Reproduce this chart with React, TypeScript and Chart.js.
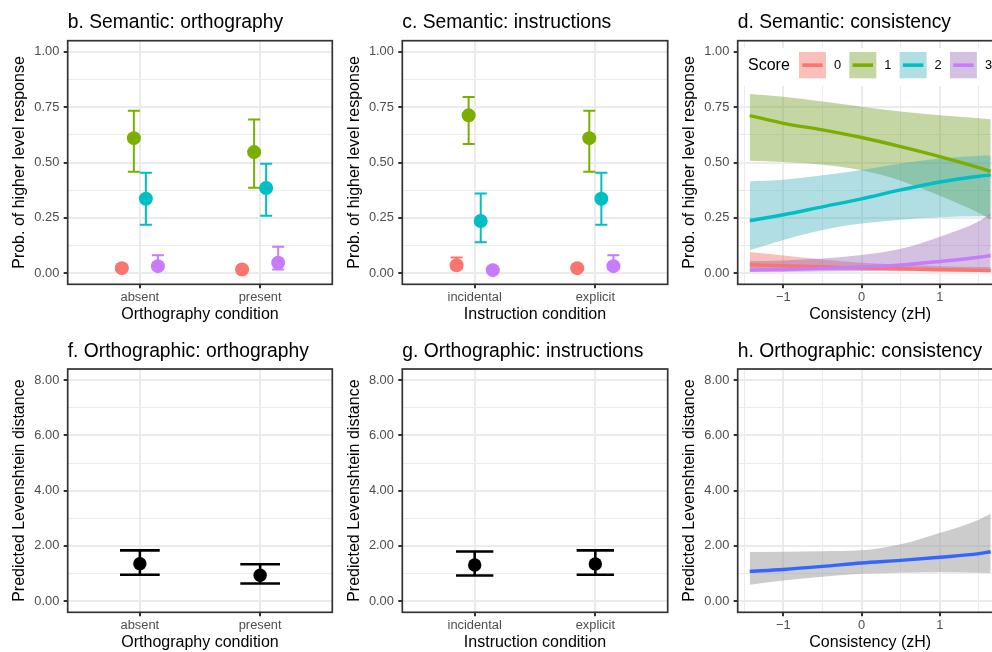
import React, { useEffect, useRef } from 'react';
import { Chart, registerables } from 'chart.js';

Chart.register(...registerables);

const FONT = '"Liberation Sans", Arial, Helvetica, sans-serif';
Chart.defaults.font.family = FONT;

// ---------------- data ----------------
const orthographyConditions = ['absent', 'present'];
const instructionConditions = ['incidental', 'explicit'];
const scoreLevels = ['0', '1', '2', '3'];
const scoreColors = ['#F8766D', '#7CAE00', '#00BFC4', '#C77CFF'];
const scoreBandColors = ['rgba(240,98,85,0.4)', 'rgba(110,152,30,0.4)', 'rgba(58,172,182,0.4)', 'rgba(148,98,178,0.4)'];

const probTicks = [0, 0.25, 0.5, 0.75, 1];
const distanceTicks = [0, 2, 4, 6, 8];
const consistencyTicks = [-1, 0, 1];

// b. Semantic: orthography (rows: score 0..3, cols: absent, present)
const semOrthoFit = [[0.023, 0.017], [0.61, 0.547], [0.336, 0.385], [0.032, 0.047]];
const semOrthoLower = [[0.013, 0.009], [0.458, 0.386], [0.219, 0.26], [0.02, 0.017]];
const semOrthoUpper = [[0.035, 0.029], [0.734, 0.694], [0.454, 0.494], [0.081, 0.12]];

// c. Semantic: instructions (cols: incidental, explicit)
const semInstrFit = [[0.036, 0.023], [0.713, 0.61], [0.236, 0.336], [0.014, 0.032]];
const semInstrLower = [[0.02, 0.013], [0.584, 0.458], [0.14, 0.219], [0.007, 0.02]];
const semInstrUpper = [[0.071, 0.035], [0.796, 0.734], [0.36, 0.454], [0.025, 0.081]];

// d. Semantic: consistency
const consistencyX = [-1.43, -1, -0.5, 0, 0.5, 1, 1.5, 1.65];
const consFit0 = [0.038, 0.034, 0.029, 0.024, 0.02, 0.016, 0.013, 0.012];
const consLow0 = [0.016, 0.015, 0.014, 0.013, 0.01, 0.008, 0.006, 0.005];
const consUp0 = [0.096, 0.08, 0.062, 0.047, 0.038, 0.032, 0.028, 0.027];
const consFit1 = [0.712, 0.677, 0.647, 0.613, 0.572, 0.527, 0.477, 0.46];
const consLow1 = [0.508, 0.502, 0.49, 0.465, 0.418, 0.35, 0.272, 0.242];
const consUp1 = [0.809, 0.797, 0.775, 0.752, 0.73, 0.713, 0.7, 0.695];
const consFit2 = [0.237, 0.264, 0.3, 0.336, 0.376, 0.412, 0.438, 0.444];
const consLow2 = [0.104, 0.15, 0.195, 0.224, 0.242, 0.253, 0.257, 0.257];
const consUp2 = [0.414, 0.422, 0.442, 0.466, 0.495, 0.518, 0.531, 0.532];
const consFit3 = [0.014, 0.017, 0.022, 0.028, 0.037, 0.053, 0.072, 0.08];
const consLow3 = [0.005, 0.006, 0.008, 0.01, 0.012, 0.014, 0.015, 0.016];
const consUp3 = [0.055, 0.058, 0.066, 0.082, 0.11, 0.165, 0.235, 0.27];

// f. Orthographic: orthography
const orthoOrthoFit = [1.36, 0.94];
const orthoOrthoLower = [0.96, 0.64];
const orthoOrthoUpper = [1.84, 1.34];

// g. Orthographic: instructions
const orthoInstrFit = [1.31, 1.35];
const orthoInstrLower = [0.93, 0.96];
const orthoInstrUpper = [1.8, 1.84];

// h. Orthographic: consistency
const orthoConsFit = [1.08, 1.15, 1.26, 1.385, 1.48, 1.59, 1.72, 1.79];
const orthoConsLow = [0.6, 0.75, 0.89, 0.99, 1.03, 1.05, 1.03, 1.02];
const orthoConsUp = [1.78, 1.79, 1.81, 1.84, 2.06, 2.47, 2.95, 3.16];

// ---------------- layout ----------------
const CANVAS_W = 340;
const CANVAS_H = 330;
const COL_LEFT = [0, 335, 670];
const ROW_TOP = [0, 328];
const AREA_COL = [
  { left: 67.7, right: 332.3 },
  { left: 67.3, right: 332.7 },
  { left: 67.7, right: 332.7 },
];
const AREA_ROW = [
  { top: 40.7, bottom: 284.3 },
  { top: 41, bottom: 284.3 },
];
const DODGE = [-0.15, -0.05, 0.05, 0.15];

function minorsOf(major: number[]) {
  const out: number[] = [];
  for (let i = 0; i < major.length - 1; i++) out.push((major[i] + major[i + 1]) / 2);
  return out;
}
function expandRange(vals: number[], mult = 0.05): [number, number] {
  const lo = Math.min(...vals);
  const hi = Math.max(...vals);
  const d = (hi - lo) * mult;
  return [lo - d, hi + d];
}

function categoricalDatasets(
  fit: number[][], lower: number[][], upper: number[][], colors: string[],
  dodge: number[], capHalf: number, radius: number, lineWidth: number,
) {
  const ds: any[] = [];
  fit.forEach((series, s) => {
    const bars: any[] = [];
    series.forEach((_v, c) => {
      const x = c + 1 + dodge[s];
      const hi = upper[s][c];
      const lo = lower[s][c];
      bars.push(
        { x: x - capHalf, y: hi }, { x: x + capHalf, y: hi }, { x, y: null },
        { x, y: hi }, { x, y: lo }, { x, y: null },
        { x: x - capHalf, y: lo }, { x: x + capHalf, y: lo }, { x, y: null },
      );
    });
    ds.push({
      data: bars, showLine: true, borderColor: colors[s], borderWidth: lineWidth,
      pointRadius: 0, spanGaps: false, fill: false, order: 2,
    });
    ds.push({
      data: series.map((v, c) => ({ x: c + 1 + dodge[s], y: v })),
      showLine: false, pointRadius: radius, pointBackgroundColor: colors[s],
      pointBorderWidth: 0, pointBorderColor: colors[s], order: 1,
    });
  });
  return ds;
}

function bandDatasets(xs: number[], low: number[], up: number[], color: string, order: number) {
  return [
    {
      data: xs.map((x, i) => ({ x, y: up[i] })), showLine: true, borderColor: 'rgba(0,0,0,0)',
      borderWidth: 0, pointRadius: 0, fill: '+1', backgroundColor: color, order,
      cubicInterpolationMode: 'monotone',
    },
    {
      data: xs.map((x, i) => ({ x, y: low[i] })), showLine: true, borderColor: 'rgba(0,0,0,0)',
      borderWidth: 0, pointRadius: 0, fill: false, order, cubicInterpolationMode: 'monotone',
    },
  ];
}
function fitLine(xs: number[], ys: number[], color: string, order: number) {
  return {
    data: xs.map((x, i) => ({ x, y: ys[i] })), showLine: true, borderColor: color,
    borderWidth: 3.4, pointRadius: 0, fill: false, order, cubicInterpolationMode: 'monotone',
  };
}

const consFits = [consFit0, consFit1, consFit2, consFit3];
const consLows = [consLow0, consLow1, consLow2, consLow3];
const consUps = [consUp0, consUp1, consUp2, consUp3];

function semanticConsistencyDatasets() {
  const ds: any[] = [];
  scoreLevels.forEach((_s, i) => {
    ds.push(...bandDatasets(consistencyX, consLows[i], consUps[i], scoreBandColors[i], 10 - i));
  });
  scoreLevels.forEach((_s, i) => {
    ds.push(fitLine(consistencyX, consFits[i], scoreColors[i], 4 - i));
  });
  return ds;
}

function drawLegend(ctx: CanvasRenderingContext2D, a: any) {
  const L = a.left;
  const T = a.top;
  ctx.fillStyle = '#ffffff';
  ctx.fillRect(L + 0.9, T + 7.6, 300, 37.7);
  ctx.fillStyle = '#000';
  ctx.textAlign = 'left';
  ctx.textBaseline = 'middle';
  ctx.font = `16px ${FONT}`;
  ctx.fillText('Score', L + 10.3, T + 24.6);
  scoreLevels.forEach((lab, i) => {
    const kx = L + 61.3 + i * 50.3;
    const ky = T + 11.3;
    ctx.fillStyle = scoreBandColors[i];
    ctx.fillRect(kx, ky, 27, 26.3);
    ctx.strokeStyle = scoreColors[i];
    ctx.lineWidth = 3.6;
    ctx.beginPath();
    ctx.moveTo(kx + 3.3, ky + 13.15);
    ctx.lineTo(kx + 23.7, ky + 13.15);
    ctx.stroke();
    ctx.fillStyle = '#000';
    ctx.font = `12.85px ${FONT}`;
    ctx.fillText(lab, kx + 35, ky + 13.4);
  });
}

const panelDecor = {
  id: 'panelDecor',
  afterDraw(chart: any, _args: any, opts: any) {
    const { ctx, chartArea: a } = chart;
    ctx.save();
    if (opts.legend) drawLegend(ctx, a);
    ctx.strokeStyle = '#333333';
    ctx.lineWidth = 1.7;
    ctx.strokeRect(a.left, a.top, a.right - a.left, a.bottom - a.top);
    ctx.font = `19.3px ${FONT}`;
    ctx.fillStyle = '#000';
    ctx.textAlign = 'left';
    ctx.textBaseline = 'alphabetic';
    ctx.fillText(opts.title, a.left, a.top - 12.4);
    ctx.restore();
  },
};

type Spec = {
  key: string; title: string; xTitle: string; yTitle: string; col: number; row: number;
  xRange: [number, number]; xMajor: number[]; xMinor: number[]; xLabel: (v: number) => string;
  yRange: [number, number]; yMajor: number[]; yMinor: number[]; yLabel: (v: number) => string;
  datasets: any[]; legend?: boolean;
};

const near = (arr: number[], v: number) => arr.some((m) => Math.abs(m - v) < 1e-9);

function buildConfig(spec: Spec): any {
  const area = { ...AREA_COL[spec.col], ...AREA_ROW[spec.row] };
  const grid = (major: number[]) => ({
    display: true,
    drawOnChartArea: true,
    drawTicks: true,
    color: '#EBEBEB',
    lineWidth: (c: any) => (c.tick && near(major, c.tick.value) ? 2 : 1),
    tickColor: (c: any) => (c.tick && near(major, c.tick.value) ? '#333333' : 'rgba(0,0,0,0)'),
    tickLength: 4,
    tickWidth: 2,
  });
  const xTicks = [...spec.xMajor, ...spec.xMinor].sort((p, q) => p - q);
  const yTicks = [...spec.yMajor, ...spec.yMinor].sort((p, q) => p - q);
  return {
    type: 'scatter',
    data: { datasets: spec.datasets },
    plugins: [panelDecor],
    options: {
      animation: false,
      responsive: false,
      maintainAspectRatio: false,
      devicePixelRatio: 1,
      events: [],
      layout: { padding: { left: 0, top: area.top, right: CANVAS_W - area.right, bottom: 0 } },
      plugins: {
        legend: { display: false },
        tooltip: { enabled: false },
        title: { display: false },
        filler: { propagate: false },
        panelDecor: { title: spec.title, legend: !!spec.legend },
      },
      scales: {
        x: {
          type: 'linear', position: 'bottom', min: spec.xRange[0], max: spec.xRange[1], bounds: 'data',
          afterBuildTicks: (s: any) => { s.ticks = xTicks.map((v) => ({ value: v })); },
          afterFit: (s: any) => { s.height = CANVAS_H - area.bottom; },
          grid: grid(spec.xMajor),
          border: { display: false },
          ticks: {
            autoSkip: false, maxRotation: 0, minRotation: 0, padding: 1, color: '#4D4D4D',
            font: { family: FONT, size: 12.85 },
            callback: (v: number) => (near(spec.xMajor, v) ? spec.xLabel(v) : ''),
          },
          title: {
            display: true, text: spec.xTitle, color: '#000',
            font: { family: FONT, size: 16 }, padding: { top: 0, bottom: 5.4 },
          },
        },
        y: {
          type: 'linear', position: 'left', min: spec.yRange[0], max: spec.yRange[1], bounds: 'data',
          afterBuildTicks: (s: any) => { s.ticks = yTicks.map((v) => ({ value: v })); },
          afterFit: (s: any) => { s.width = area.left; },
          grid: grid(spec.yMajor),
          border: { display: false },
          ticks: {
            autoSkip: false, padding: 4.4, color: '#4D4D4D',
            font: { family: FONT, size: 12.85 },
            callback: (v: number) => (near(spec.yMajor, v) ? spec.yLabel(v) : ''),
          },
          title: {
            display: true, text: spec.yTitle, color: '#000',
            font: { family: FONT, size: 16 }, padding: { top: 10.4, bottom: 0 },
          },
        },
      },
    },
  };
}

const probRange = expandRange([0, 1]);
const distRange = expandRange([0, 8]);
const consRange = expandRange(consistencyX);
const catRange: [number, number] = [0.4, 2.6];
const fmt2 = (v: number) => v.toFixed(2);
const consLabel = (v: number) => (v < 0 ? '\u2212' + Math.abs(v) : String(v));

const specs: Spec[] = [
  {
    key: 'b', title: 'b. Semantic: orthography', xTitle: 'Orthography condition',
    yTitle: 'Prob. of higher level response', col: 0, row: 0,
    xRange: catRange, xMajor: [1, 2], xMinor: [], xLabel: (v) => orthographyConditions[Math.round(v) - 1],
    yRange: probRange, yMajor: probTicks, yMinor: minorsOf(probTicks), yLabel: fmt2,
    datasets: categoricalDatasets(semOrthoFit, semOrthoLower, semOrthoUpper, scoreColors, DODGE, 0.05, 7, 2),
  },
  {
    key: 'c', title: 'c. Semantic: instructions', xTitle: 'Instruction condition',
    yTitle: 'Prob. of higher level response', col: 1, row: 0,
    xRange: catRange, xMajor: [1, 2], xMinor: [], xLabel: (v) => instructionConditions[Math.round(v) - 1],
    yRange: probRange, yMajor: probTicks, yMinor: minorsOf(probTicks), yLabel: fmt2,
    datasets: categoricalDatasets(semInstrFit, semInstrLower, semInstrUpper, scoreColors, DODGE, 0.05, 7, 2),
  },
  {
    key: 'd', title: 'd. Semantic: consistency', xTitle: 'Consistency (zH)',
    yTitle: 'Prob. of higher level response', col: 2, row: 0,
    xRange: consRange, xMajor: consistencyTicks, xMinor: [-1.5, ...minorsOf(consistencyTicks), 1.5], xLabel: consLabel,
    yRange: probRange, yMajor: probTicks, yMinor: minorsOf(probTicks), yLabel: fmt2,
    datasets: semanticConsistencyDatasets(), legend: true,
  },
  {
    key: 'f', title: 'f. Orthographic: orthography', xTitle: 'Orthography condition',
    yTitle: 'Predicted Levenshtein distance', col: 0, row: 1,
    xRange: catRange, xMajor: [1, 2], xMinor: [], xLabel: (v) => orthographyConditions[Math.round(v) - 1],
    yRange: distRange, yMajor: distanceTicks, yMinor: minorsOf(distanceTicks), yLabel: fmt2,
    datasets: categoricalDatasets([orthoOrthoFit], [orthoOrthoLower], [orthoOrthoUpper], ['#000000'], [0], 0.165, 6.7, 2.6),
  },
  {
    key: 'g', title: 'g. Orthographic: instructions', xTitle: 'Instruction condition',
    yTitle: 'Predicted Levenshtein distance', col: 1, row: 1,
    xRange: catRange, xMajor: [1, 2], xMinor: [], xLabel: (v) => instructionConditions[Math.round(v) - 1],
    yRange: distRange, yMajor: distanceTicks, yMinor: minorsOf(distanceTicks), yLabel: fmt2,
    datasets: categoricalDatasets([orthoInstrFit], [orthoInstrLower], [orthoInstrUpper], ['#000000'], [0], 0.155, 6.7, 2.6),
  },
  {
    key: 'h', title: 'h. Orthographic: consistency', xTitle: 'Consistency (zH)',
    yTitle: 'Predicted Levenshtein distance', col: 2, row: 1,
    xRange: consRange, xMajor: consistencyTicks, xMinor: [-1.5, ...minorsOf(consistencyTicks), 1.5], xLabel: consLabel,
    yRange: distRange, yMajor: distanceTicks, yMinor: minorsOf(distanceTicks), yLabel: fmt2,
    datasets: [
      ...bandDatasets(consistencyX, orthoConsLow, orthoConsUp, 'rgba(153,153,153,0.5)', 3),
      fitLine(consistencyX, orthoConsFit, '#3366FF', 1),
    ],
  },
];

function Panel({ spec }: { spec: Spec }) {
  const ref = useRef<HTMLCanvasElement | null>(null);
  useEffect(() => {
    if (!ref.current) return;
    const chart = new Chart(ref.current, buildConfig(spec));
    return () => chart.destroy();
  }, [spec]);
  return (
    <canvas
      ref={ref}
      width={CANVAS_W}
      height={CANVAS_H}
      style={{
        position: 'absolute',
        left: COL_LEFT[spec.col],
        top: ROW_TOP[spec.row],
        width: CANVAS_W,
        height: CANVAS_H,
        display: 'block',
      }}
    />
  );
}

export default function App() {
  return (
    <div
      style={{
        position: 'fixed', left: 0, top: 0, width: 992, height: 652,
        overflow: 'hidden', background: '#ffffff',
      }}
    >
      {specs.map((s) => (
        <Panel key={s.key} spec={s} />
      ))}
    </div>
  );
}
